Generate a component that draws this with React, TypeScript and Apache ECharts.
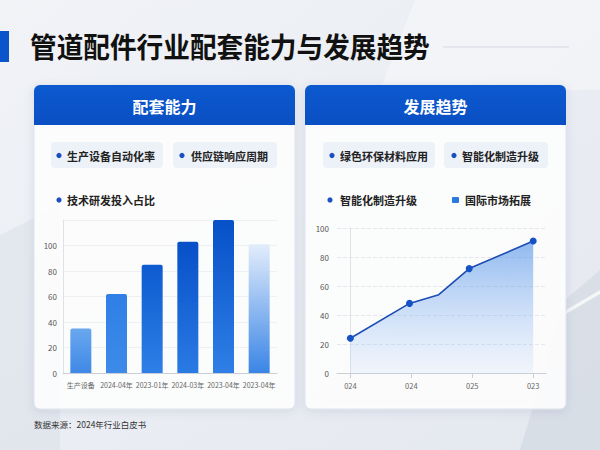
import React, { useEffect, useRef } from "react";
import * as echarts from "echarts";

const barCategories = ["生产设备", "2024-04年", "2023-01年", "2024-03年", "2023-04年", "2023-04年"];
const barValues = [35, 62, 85, 103, 120, 101];
const barTopColors = ["#6aa8ee", "#2f7fe6", "#0d5bd0", "#0650c8", "#0650c8", "#e3edfb"];
const barBottomColors = ["#3f88e5", "#3d8ae8", "#2e7fe6", "#2a7ae4", "#2f7fe6", "#3a85e6"];
const barYTicks = [0, 20, 40, 60, 80, 100];

const lineXPositions = [0, 0.97, 1.45, 1.95, 3];
const lineValues = [24, 48, 54, 72, 91];
const lineMarked = [true, true, false, true, true];
const lineTickPositions = [0, 1, 2, 3];
const lineTickLabels = ["024", "024", "025", "023"];

const leftLegend = ["生产设备自动化率", "供应链响应周期", "技术研发投入占比"];
const rightLegend = ["绿色环保材料应用", "智能化制造升级", "智能化制造升级", "国际市场拓展"];

const TITLE = "管道配件行业配套能力与发展趋势";
const FONT = "'Noto Sans CJK SC', 'Noto Sans', sans-serif";

export default function App() {
  const ref = useRef<HTMLDivElement>(null);
  useEffect(() => {
    document.body.style.margin = "0";
    const chart = echarts.init(ref.current!, null, { renderer: "svg" });

    const titleFont = `bold 28px ${FONT}`;
    let titleScale = 1;
    try {
      const ctx = document.createElement("canvas").getContext("2d")!;
      ctx.font = titleFont;
      const w = ctx.measureText(TITLE).width;
      if (w > 0) titleScale = 400 / w;
    } catch (e) {
      titleScale = 1;
    }

    const card = (x: number, title: string) => [
      {
        type: "rect",
        shape: { x, y: 85, width: 261, height: 324, r: 6 },
        style: { fill: "rgba(255,255,255,0.88)", stroke: "#dde3ec", lineWidth: 1, shadowBlur: 10, shadowColor: "rgba(20,40,90,0.10)", shadowOffsetY: 2 },
        z: 1,
      },
      {
        type: "rect",
        shape: { x, y: 85, width: 261, height: 40, r: [6, 6, 0, 0] },
        style: {
          fill: new echarts.graphic.LinearGradient(0, 0, 0, 1, [
            { offset: 0, color: "#0c59cf" },
            { offset: 1, color: "#0a4fc3" },
          ]),
        },
        z: 2,
      },
      {
        type: "text",
        x: x + 130.5,
        y: 106,
        style: { text: title, fill: "#ffffff", font: `bold 16px ${FONT}`, textAlign: "center", textVerticalAlign: "middle" },
        z: 3,
      },
    ];

    const pill = (x: number, w: number) => ({
      type: "rect",
      shape: { x, y: 142, width: w, height: 26, r: 4 },
      style: { fill: "#edf1f8" },
      z: 2,
    });
    const dot = (x: number, y: number) => ({
      type: "circle",
      shape: { cx: x, cy: y, r: 2.6 },
      style: { fill: "#1a4fc0" },
      z: 3,
    });
    const label = (x: number, y: number, t: string) => ({
      type: "text",
      x,
      y,
      style: { text: t, fill: "#222", font: `bold 11px ${FONT}`, textVerticalAlign: "middle" },
      z: 3,
    });

    const option: any = {
      animation: false,
      backgroundColor: new echarts.graphic.LinearGradient(0, 0, 1, 1, [
        { offset: 0, color: "#f1f3f7" },
        { offset: 1, color: "#e4e8ef" },
      ]),
      graphic: [
        // background decoration
        { type: "polygon", shape: { points: [[0, 235], [60, 205], [60, 450], [0, 450]] }, style: { fill: "rgba(200,208,220,0.25)" }, z: 0 },
        { type: "polygon", shape: { points: [[415, 0], [600, 0], [600, 90], [380, 90]] }, style: { fill: "rgba(255,255,255,0.35)" }, z: 0 },
        { type: "polygon", shape: { points: [[565, 300], [600, 270], [600, 450], [520, 450]] }, style: { fill: "rgba(180,190,205,0.25)" }, z: 0 },
        { type: "polygon", shape: { points: [[566, 310], [600, 290], [600, 294], [566, 314]] }, style: { fill: "rgba(255,255,255,0.7)" }, z: 0 },
        // title
        { type: "rect", shape: { x: 0, y: 31, width: 9, height: 31 }, style: { fill: "#0a55cc" }, z: 2 },
        { type: "text", x: 30, y: 46, scaleX: titleScale, style: { text: TITLE, fill: "#111", font: titleFont, textVerticalAlign: "middle" }, z: 2 },
        { type: "line", shape: { x1: 443, y1: 47, x2: 569, y2: 47 }, style: { stroke: "#d5dae3", lineWidth: 1 }, z: 2 },
        // cards
        ...card(34, "配套能力"),
        ...card(305, "发展趋势"),
        // left legend
        pill(51, 112),
        pill(173, 104),
        dot(59, 155.5),
        label(67, 155.5, leftLegend[0]),
        dot(182, 155.5),
        label(191, 155.5, leftLegend[1]),
        dot(59, 200),
        label(67, 200, leftLegend[2]),
        // right legend
        pill(323, 112),
        pill(444, 104),
        dot(332, 155.5),
        label(340, 155.5, rightLegend[0]),
        dot(454, 155.5),
        label(462, 155.5, rightLegend[1]),
        dot(330, 200),
        label(340, 200, rightLegend[2]),
        { type: "rect", shape: { x: 452, y: 197, width: 7, height: 6, r: 1 }, style: { fill: "#2a78e0" }, z: 3 },
        label(465, 200, rightLegend[3]),
        // footer
        { type: "text", x: 34, y: 424, style: { text: "数据来源：2024年行业白皮书", fill: "#333", font: `8.5px ${FONT}`, textVerticalAlign: "middle" }, z: 2 },
      ],
      grid: [
        { left: 63, right: 323, top: 220, bottom: 77 },
        { left: 337, right: 54, top: 228, bottom: 77 },
      ],
      xAxis: [
        {
          type: "category",
          gridIndex: 0,
          data: barCategories,
          axisLine: { lineStyle: { color: "#c9ced8" } },
          axisTick: { show: false },
          axisLabel: { color: "#666", fontSize: 7, fontFamily: FONT, margin: 8, interval: 0 },
          z: 5,
        },
        {
          type: "value",
          gridIndex: 1,
          min: -0.22,
          max: 3.21,
          splitLine: { show: false },
          axisLine: { show: true, onZero: false, lineStyle: { color: "#c9ced8" } },
          axisTick: { show: true, customValues: lineTickPositions, lineStyle: { color: "#c9ced8" } },
          axisLabel: {
            customValues: lineTickPositions,
            color: "#666",
            fontSize: 7.5,
            fontFamily: FONT,
            margin: 9,
            formatter: (v: number) => lineTickLabels[lineTickPositions.indexOf(Math.round(v))] ?? "",
          },
          z: 5,
        },
      ],
      yAxis: [
        {
          type: "value",
          gridIndex: 0,
          min: 0,
          max: 120,
          interval: 20,
          axisLine: { show: true, lineStyle: { color: "#dde1e8" } },
          axisTick: { show: false },
          axisLabel: {
            color: "#555",
            fontSize: 8,
            fontFamily: FONT,
            margin: 6,
            showMaxLabel: false,
            formatter: (v: number) => (barYTicks.includes(v) ? String(v) : ""),
          },
          splitLine: { lineStyle: { color: "#eef0f4" } },
          z: 5,
        },
        {
          type: "value",
          gridIndex: 1,
          min: 0,
          max: 100,
          interval: 20,
          axisLine: { show: true, lineStyle: { color: "#dde1e8" } },
          axisTick: { show: false },
          axisLabel: { color: "#555", fontSize: 8, fontFamily: FONT, margin: 8 },
          splitLine: { lineStyle: { color: "#e4e7ee", type: "dashed" } },
          z: 5,
        },
      ],
      series: [
        {
          type: "bar",
          xAxisIndex: 0,
          yAxisIndex: 0,
          barWidth: 21,
          z: 6,
          data: barValues.map((v, i) => ({
            value: v,
            itemStyle: {
              borderRadius: [2, 2, 0, 0],
              color: new echarts.graphic.LinearGradient(0, 0, 0, 1, [
                { offset: 0, color: barTopColors[i] },
                { offset: 1, color: barBottomColors[i] },
              ]),
            },
          })),
        },
        {
          type: "line",
          xAxisIndex: 1,
          yAxisIndex: 1,
          z: 6,
          symbol: "circle",
          symbolSize: 7,
          lineStyle: { color: "#1b4db3", width: 1.6 },
          itemStyle: { color: "#1552c6" },
          areaStyle: {
            color: new echarts.graphic.LinearGradient(0, 0, 0, 1, [
              { offset: 0, color: "rgba(70,140,230,0.85)" },
              { offset: 1, color: "rgba(150,190,245,0.15)" },
            ]),
          },
          data: lineXPositions.map((x, i) => ({
            value: [x, lineValues[i]],
            symbol: lineMarked[i] ? "circle" : "none",
          })),
        },
      ],
    };
    chart.setOption(option);
    return () => chart.dispose();
  }, []);
  return <div ref={ref} style={{ width: 600, height: 450 }} />;
}
